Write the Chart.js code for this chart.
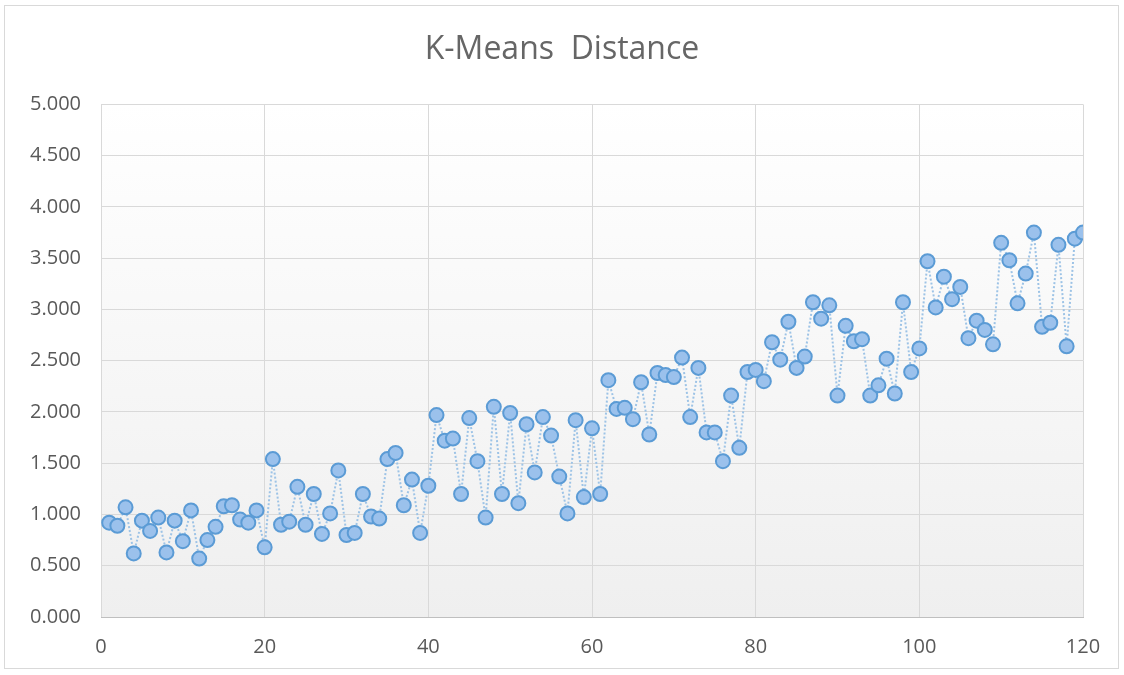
<!DOCTYPE html>
<html>
<head>
<meta charset="utf-8">
<script src="https://cdn.jsdelivr.net/npm/chart.js@4/dist/chart.umd.min.js"></script>
<style>
  html, body { margin: 0; padding: 0; background: #fff; }
  #wrap { width: 1124px; height: 675px; position: relative; }
</style>
</head>
<body>
<div id="wrap"><canvas id="myChart"></canvas></div>
<script>
// K-Means distance per sample (sample numbers 1..120)
const distances = [
    0.92, 0.89, 1.07, 0.62, 0.94, 0.84, 0.97, 0.63, 0.94, 0.74,
    1.04, 0.57, 0.75, 0.88, 1.08, 1.09, 0.95, 0.92, 1.04, 0.68,
    1.54, 0.90, 0.93, 1.27, 0.90, 1.20, 0.81, 1.01, 1.43, 0.80,
    0.82, 1.20, 0.98, 0.96, 1.54, 1.60, 1.09, 1.34, 0.82, 1.28,
    1.97, 1.72, 1.74, 1.20, 1.94, 1.52, 0.97, 2.05, 1.20, 1.99,
    1.11, 1.88, 1.41, 1.95, 1.77, 1.37, 1.01, 1.92, 1.17, 1.84,
    1.20, 2.31, 2.03, 2.04, 1.93, 2.29, 1.78, 2.38, 2.36, 2.34,
    2.53, 1.95, 2.43, 1.80, 1.80, 1.52, 2.16, 1.65, 2.39, 2.41,
    2.30, 2.68, 2.51, 2.88, 2.43, 2.54, 3.07, 2.91, 3.04, 2.16,
    2.84, 2.69, 2.71, 2.16, 2.26, 2.52, 2.18, 3.07, 2.39, 2.62,
    3.47, 3.02, 3.32, 3.10, 3.22, 2.72, 2.89, 2.80, 2.66, 3.65,
    3.48, 3.06, 3.35, 3.75, 2.83, 2.87, 3.63, 2.64, 3.69, 3.75
];
const xTicks = [0, 20, 40, 60, 80, 100, 120];
const yTicks = [0, 0.5, 1, 1.5, 2, 2.5, 3, 3.5, 4, 4.5, 5];

const points = distances.map((d, i) => ({ x: i + 1, y: d }));

// plot area gradient + outer chart border
const backdrop = {
    id: "backdrop",
    beforeDraw(chart) {
        const { ctx, chartArea: a } = chart;
        ctx.save();
        ctx.fillStyle = "#fff";
        ctx.fillRect(0, 0, chart.width, chart.height);
        const g = ctx.createLinearGradient(0, a.top, 0, a.bottom);
        g.addColorStop(0, "#ffffff");
        g.addColorStop(1, "#efefef");
        ctx.fillStyle = g;
        ctx.fillRect(a.left, a.top, a.right - a.left, a.bottom - a.top);
        ctx.strokeStyle = "#d9d9d9";
        ctx.lineWidth = 1;
        ctx.strokeRect(4.5, 5.5, 1114, 663);
        ctx.restore();
    }
};

const tickFont = { family: "'Open Sans', sans-serif", size: 20 };

new Chart(document.getElementById("myChart"), {
    type: "scatter",
    data: {
        datasets: [{
            label: "K-Means Distance",
            data: points,
            showLine: true,
            borderColor: "#9dc3e6",
            borderWidth: 2,
            borderDash: [2, 2],
            pointRadius: 7,
            pointHoverRadius: 7,
            pointBackgroundColor: "#9bc1ec",
            pointBorderColor: "#5b9bd5",
            pointBorderWidth: 2
        }]
    },
    options: {
        responsive: true,
        maintainAspectRatio: false,
        animation: false,
        layout: { padding: 0 },
        plugins: {
            legend: { display: false },
            tooltip: { enabled: false },
            title: {
                display: true,
                text: "K-Means  Distance",
                color: "#666666",
                font: { family: "'Open Sans', sans-serif", size: 32, weight: "normal" },
                padding: { top: 31, bottom: 35 }
            }
        },
        scales: {
            x: {
                type: "linear",
                min: 0,
                max: 120,
                afterBuildTicks: s => { s.ticks = xTicks.map(v => ({ value: v })); },
                afterFit: s => { s.height = 58; },
                grid: { color: "#d9d9d9", drawTicks: false },
                border: { color: "#bfbfbf" },
                ticks: { color: "#595959", font: tickFont, padding: 18 }
            },
            y: {
                min: 0,
                max: 5,
                afterBuildTicks: s => { s.ticks = yTicks.map(v => ({ value: v })); },
                afterFit: s => { s.width = 101; },
                grid: { color: "#d9d9d9", drawTicks: false },
                border: { display: false },
                ticks: {
                    color: "#595959",
                    font: tickFont,
                    padding: 20,
                    callback: v => v.toFixed(3)
                }
            },
            // empty right-hand axis, only reserves the margin right of the plot
            spacer: {
                position: "right",
                min: 0,
                max: 5,
                afterFit: s => { s.width = 41; },
                grid: { display: false },
                border: { display: false },
                ticks: { display: false }
            }
        }
    },
    plugins: [backdrop]
});
</script>
</body>
</html>
